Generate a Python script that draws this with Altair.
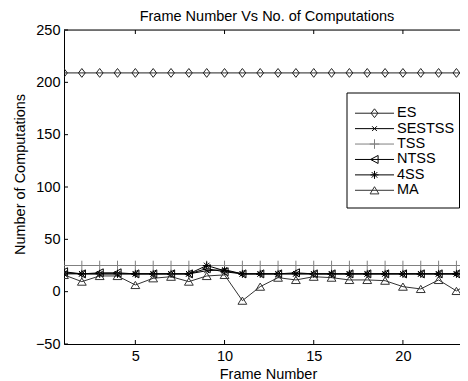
import altair as alt
import pandas as pd

frames = list(range(1, 25))
series_names = ["ES", "SESTSS", "TSS", "NTSS", "4SS", "MA"]

es = [209] * 24
sestss = [18, 17, 17, 17, 17, 17, 17, 17, 20, 21, 17, 17, 17, 17, 17, 17, 17, 17, 17, 17, 17, 17, 17, 17]
tss = [25] * 24
ntss = [19, 17, 18, 18, 17, 17, 17, 17, 22, 19, 17, 17, 17, 18, 17, 17, 17, 17, 17, 17, 17, 17, 17, 17]
fss = [17, 17, 17, 17, 17, 17, 17, 17, 25, 20, 17, 17, 17, 17, 17, 17, 17, 17, 17, 17, 17, 17, 17, 17]
ma = [16, 9.6, 15, 15, 6.4, 12.8, 14.3, 9.6, 15, 16, -8.6, 4.8, 13.4, 11.2, 14.3, 13.4, 11.2, 11.2, 10.5, 4.8, 2.6, 11.2, 0.7, 11]

x_ticks = [5, 10, 15, 20]
y_ticks = [-50, 0, 50, 100, 150, 200, 250]

values = {"ES": es, "SESTSS": sestss, "TSS": tss, "NTSS": ntss, "4SS": fss, "MA": ma}
rows = []
for name in series_names:
    for f, v in zip(frames, values[name]):
        rows.append({"frame": f, "value": v, "series": name})
df = pd.DataFrame(rows)

colors = ["#222222", "#000000", "#808080", "#000000", "#000000", "#333333"]
shapes = [
    "M0,-1.1L0.85,0L0,1.1L-0.85,0Z",
    "M-0.6,-0.6L0.6,0.6M-0.6,0.6L0.6,-0.6",
    "M-1.2,0L1.2,0M0,-1.2L0,1.2",
    "M-1,0L0.9,-1L0.9,1Z",
    "M-1,0L1,0M0,-1L0,1M-0.7,-0.7L0.7,0.7M-0.7,0.7L0.7,-0.7",
    "M0,-0.9L1.1,0.9L-1.1,0.9Z",
]

FONT = "Liberation Sans"
FS = 14.5
W, H = 396, 314

stroke_enc = alt.Stroke("series:N", scale=alt.Scale(domain=series_names, range=colors), legend=None)
shape_enc = alt.Shape("series:N", scale=alt.Scale(domain=series_names, range=shapes), legend=None)

x_scale = alt.Scale(domain=[1, 23.2], nice=False, zero=False)
y_scale = alt.Scale(domain=[-50, 250], nice=False, zero=False)

x_axis = alt.Axis(values=x_ticks, ticks=False, grid=False, labelPadding=5,
                  titleX=204, titleY=30, titleBaseline="middle",
                  domainColor="black", labelColor="black", titleColor="black",
                  labelFont=FONT, titleFont=FONT, labelFontSize=FS, titleFontSize=FS,
                  titleFontWeight="normal")
y_axis = alt.Axis(values=y_ticks, ticks=False, grid=False, labelPadding=4,
                  titleX=-44, titleY=144, titleBaseline="middle",
                  domainColor="black", labelColor="black", titleColor="black",
                  labelFont=FONT, titleFont=FONT, labelFontSize=FS, titleFontSize=FS,
                  titleFontWeight="normal")

x_enc = alt.X("frame:Q", scale=x_scale, title="Frame Number", axis=x_axis)
y_enc = alt.Y("value:Q", scale=y_scale, title="Number of Computations", axis=y_axis)

base = alt.Chart(df)
lines = base.mark_line(strokeWidth=1, clip=True).encode(x=x_enc, y=y_enc, stroke=stroke_enc)
points = base.mark_point(filled=False, size=64, strokeWidth=1, clip=True, opacity=1).encode(
    x=x_enc, y=y_enc, stroke=stroke_enc, shape=shape_enc
)

xt = pd.DataFrame({"frame": x_ticks})
yt = pd.DataFrame({"value": y_ticks})
xtick_bottom = alt.Chart(xt).mark_rule(color="black", strokeWidth=1).encode(
    x=x_enc, y=alt.value(H), y2=alt.value(H - 4)
)
xtick_top = alt.Chart(xt).mark_rule(color="black", strokeWidth=1).encode(
    x=x_enc, y=alt.value(0), y2=alt.value(4)
)
ytick = alt.Chart(yt).mark_rule(color="black", strokeWidth=1).encode(
    y=y_enc, x=alt.value(0), x2=alt.value(4)
)
top_border = alt.Chart(pd.DataFrame({"a": [0]})).mark_rule(color="black", strokeWidth=1).encode(
    x=alt.value(0), x2=alt.value(W), y=alt.value(0)
)

main = alt.layer(lines, points, xtick_bottom, xtick_top, ytick, top_border)

# legend
leg_df = pd.DataFrame({"series": series_names})
leg_y = alt.Y("series:N", scale=alt.Scale(domain=series_names, range=[75.5, 168], padding=0), axis=None)
leg_box = alt.Chart(pd.DataFrame({"a": [0]})).mark_rect(fill="white", stroke="black", strokeWidth=1).encode(
    x=alt.value(283), x2=alt.value(W - 0.5), y=alt.value(63), y2=alt.value(178)
)
leg_lines = alt.Chart(leg_df).mark_rule(strokeWidth=1).encode(
    x=alt.value(291), x2=alt.value(330), y=leg_y, stroke=stroke_enc
)
leg_points = alt.Chart(leg_df).mark_point(filled=False, size=64, strokeWidth=1, opacity=1).encode(
    x=alt.value(310.5), y=leg_y, stroke=stroke_enc, shape=shape_enc
)
leg_text = alt.Chart(leg_df).mark_text(align="left", baseline="middle", font=FONT, fontSize=FS, color="black").encode(
    x=alt.value(333), y=leg_y, text="series:N"
)
legend = alt.layer(leg_box, leg_lines, leg_points, leg_text)

chart = alt.layer(main, legend).resolve_scale(y="independent").properties(
    width=W, height=H,
    title=alt.TitleParams("Frame Number Vs No. of Computations", font=FONT, fontSize=FS,
                          fontWeight="normal", color="black", anchor="middle", offset=5, dx=5, dy=7,
                          frame="group"),
    autosize=alt.AutoSizeParams(type="none"),
    padding={"left": 56, "top": 22, "right": 0, "bottom": 37},
).configure_view(stroke=None).configure(background="white")

chart.save("out.html", embed_options={"renderer": "svg", "actions": False})
